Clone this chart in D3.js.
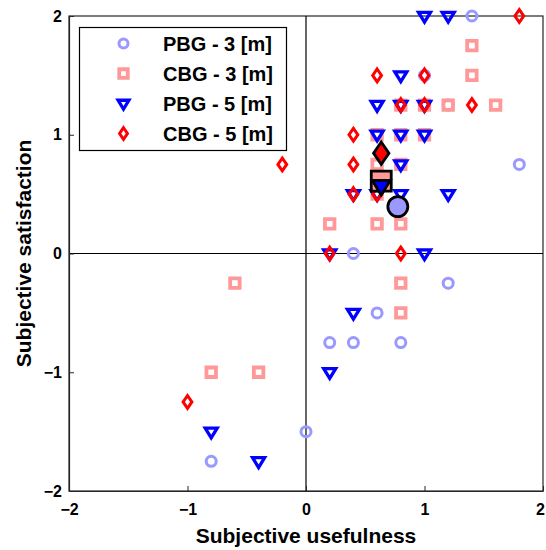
<!DOCTYPE html>
<html>
<head>
<meta charset="utf-8">
<script src="https://cdn.jsdelivr.net/npm/d3@7"></script>
<style>
  html, body { margin: 0; padding: 0; background: #fff; }
  svg { display: block; font-family: "Liberation Sans", Arial, sans-serif; }
</style>
</head>
<body>
<svg id="chart" width="546" height="550"></svg>
<script>
// Axis ticks
const xTicks = [-2, -1, 0, 1, 2];
const yTicks = [-2, -1, 0, 1, 2];

// Series names (legend order)
const seriesNames = ["PBG - 3 [m]", "CBG - 3 [m]", "PBG - 5 [m]", "CBG - 5 [m]"];

// Individual responses: [usefulness, satisfaction]
const pbg3 = [
  [1.4, 2], [1.0, 1.5], [1.2, 1.25], [1.0, 1.0], [0.8, 0.75], [1.8, 0.75],
  [0.4, 0], [1.2, -0.25], [0.6, -0.5], [0.2, -0.75], [0.4, -0.75], [0.8, -0.75],
  [0, -1.5], [-0.8, -1.75]
];
const cbg3 = [
  [1.4, 1.75], [1.4, 1.5], [0.8, 1.25], [1.0, 1.25], [1.2, 1.25], [1.6, 1.25],
  [0.6, 1.0], [0.8, 1.0], [1.0, 1.0], [0.6, 0.75], [0.8, 0.75], [0.6, 0.5],
  [0.2, 0.25], [0.6, 0.25], [0.8, 0.25], [-0.6, -0.25], [0.8, -0.25], [0.8, -0.5],
  [-0.8, -1], [-0.4, -1]
];
const pbg5 = [
  [1.0, 2], [1.2, 2], [0.8, 1.5], [0.6, 1.25], [0.8, 1.25], [1.0, 1.25],
  [0.6, 1.0], [0.8, 1.0], [1.0, 1.0], [0.8, 0.75], [0.4, 0.5], [0.6, 0.5],
  [0.8, 0.5], [1.2, 0.5], [0.2, 0], [1.0, 0], [0.4, -0.5], [0.2, -1],
  [-0.8, -1.5], [-0.4, -1.75]
];
const cbg5 = [
  [1.8, 2], [0.6, 1.5], [1.0, 1.5], [0.8, 1.25], [1.0, 1.25], [1.4, 1.25],
  [0.4, 1.0], [0.4, 0.75], [-0.2, 0.75], [0.4, 0.5], [0.6, 0.5], [0.2, 0],
  [0.8, 0], [-1, -1.25]
];

// Group means: [usefulness, satisfaction]
const meanPbg3 = [0.775, 0.395];
const meanCbg3 = [0.635, 0.61];
const meanPbg5 = [0.635, 0.57];
const meanCbg5 = [0.635, 0.845];

const colors = ["#9999ff", "#ff9999", "#0000ff", "#ff0000"];

const svg = d3.select("#chart");
const plot = { left: 69, right: 543, top: 16, bottom: 491 };

const x = d3.scaleLinear().domain([-2, 2]).range([plot.left, plot.right]);
const y = d3.scaleLinear().domain([-2, 2]).range([plot.bottom, plot.top]);

// Marker shape paths centred on the origin; k scales the shape
function shapePath(kind, k) {
  const p = d3.path();
  if (kind === "circle") {
    p.arc(0, 0, 5.0 * k, 0, 2 * Math.PI);
  } else if (kind === "square") {
    const h = 4.75 * k;
    p.rect(-h, -h, 2 * h, 2 * h);
  } else if (kind === "triangle") {
    p.moveTo(-6 * k, -3.6 * k);
    p.lineTo(6 * k, -3.6 * k);
    p.lineTo(0, 6.2 * k);
    p.closePath();
  } else if (kind === "diamond") {
    p.moveTo(0, -6.4 * k);
    p.lineTo(4.4 * k, 0);
    p.lineTo(0, 6.4 * k);
    p.lineTo(-4.4 * k, 0);
    p.closePath();
  }
  return p.toString();
}

const kinds = ["circle", "square", "triangle", "diamond"];
const widths = [3.0, 3.8, 3.3, 3.0];

// Frame
svg.append("rect")
  .attr("x", plot.left).attr("y", plot.top)
  .attr("width", plot.right - plot.left).attr("height", plot.bottom - plot.top)
  .attr("fill", "#fff").attr("stroke", "#262626").attr("stroke-width", 1.2);

// Zero cross lines
svg.append("line")
  .attr("x1", x(0)).attr("x2", x(0)).attr("y1", plot.top).attr("y2", plot.bottom)
  .attr("stroke", "#000").attr("stroke-width", 1.2);
svg.append("line")
  .attr("x1", plot.left).attr("x2", plot.right).attr("y1", y(0)).attr("y2", y(0))
  .attr("stroke", "#000").attr("stroke-width", 1.2);

// Axes
const xAxis = svg.append("g")
  .attr("transform", `translate(0,${plot.bottom})`)
  .call(d3.axisBottom(x).tickValues(xTicks).tickFormat(d3.format("d"))
    .tickSizeInner(-5).tickSizeOuter(0).tickPadding(13));
const yAxis = svg.append("g")
  .attr("transform", `translate(${plot.left},0)`)
  .call(d3.axisLeft(y).tickValues(yTicks).tickFormat(d3.format("d"))
    .tickSizeInner(-5).tickSizeOuter(0).tickPadding(7));

[xAxis, yAxis].forEach(g => {
  g.select(".domain").attr("stroke", "#262626").attr("stroke-width", 1.2);
  g.selectAll(".tick line").attr("stroke", "#262626").attr("stroke-width", 1);
  g.selectAll(".tick text")
    .attr("fill", "#000")
    .style("font-size", "16px")
    .style("font-weight", "bold")
    .style("font-family", "'Liberation Sans', Arial, sans-serif");
});
// keep the rightmost x label inside the page edge
xAxis.selectAll(".tick text").filter(d => d === 2)
  .attr("text-anchor", "end").attr("dx", 1.5);

// Axis titles
svg.append("text")
  .attr("x", (plot.left + plot.right) / 2).attr("y", 543)
  .attr("text-anchor", "middle")
  .style("font-size", "21px").style("font-weight", "bold")
  .text("Subjective usefulness");
svg.append("text")
  .attr("transform", `translate(31,${(plot.top + plot.bottom) / 2}) rotate(-90)`)
  .attr("text-anchor", "middle")
  .style("font-size", "21px").style("font-weight", "bold")
  .text("Subjective satisfaction");

// Individual points
const allSeries = [pbg3, cbg3, pbg5, cbg5];
allSeries.forEach((data, i) => {
  svg.append("g").selectAll("path")
    .data(data)
    .join("path")
    .attr("transform", d => `translate(${x(d[0])},${y(d[1])})`)
    .attr("d", shapePath(kinds[i], 1))
    .attr("fill", "none")
    .attr("stroke", colors[i])
    .attr("stroke-width", widths[i])
    .attr("stroke-linejoin", "miter");
});

// Group means: filled, black outline, larger
const means = [meanPbg3, meanCbg3, meanPbg5, meanCbg5];
const meanScale = [2.0, 2.1, 1.5, 1.75];
means.forEach((m, i) => {
  svg.append("path")
    .attr("transform", `translate(${x(m[0])},${y(m[1])})`)
    .attr("d", shapePath(kinds[i], meanScale[i]))
    .attr("fill", colors[i])
    .attr("stroke", "#000")
    .attr("stroke-width", 2.8)
    .attr("stroke-linejoin", "miter");
});

// Legend
const legend = svg.append("g");
legend.append("rect")
  .attr("x", 79.5).attr("y", 27.5).attr("width", 207).attr("height", 123)
  .attr("fill", "#fff").attr("stroke", "#000").attr("stroke-width", 1.2);
const rowY = d3.scalePoint().domain(seriesNames).range([43.5, 133.5]);
seriesNames.forEach((name, i) => {
  legend.append("path")
    .attr("transform", `translate(123.5,${rowY(name)})`)
    .attr("d", shapePath(kinds[i], 0.9))
    .attr("fill", "none")
    .attr("stroke", colors[i])
    .attr("stroke-width", widths[i]);
  legend.append("text")
    .attr("x", 163).attr("y", rowY(name))
    .attr("dy", "0.36em")
    .style("font-size", "20px").style("font-weight", "bold")
    .text(name);
});
</script>
</body>
</html>
